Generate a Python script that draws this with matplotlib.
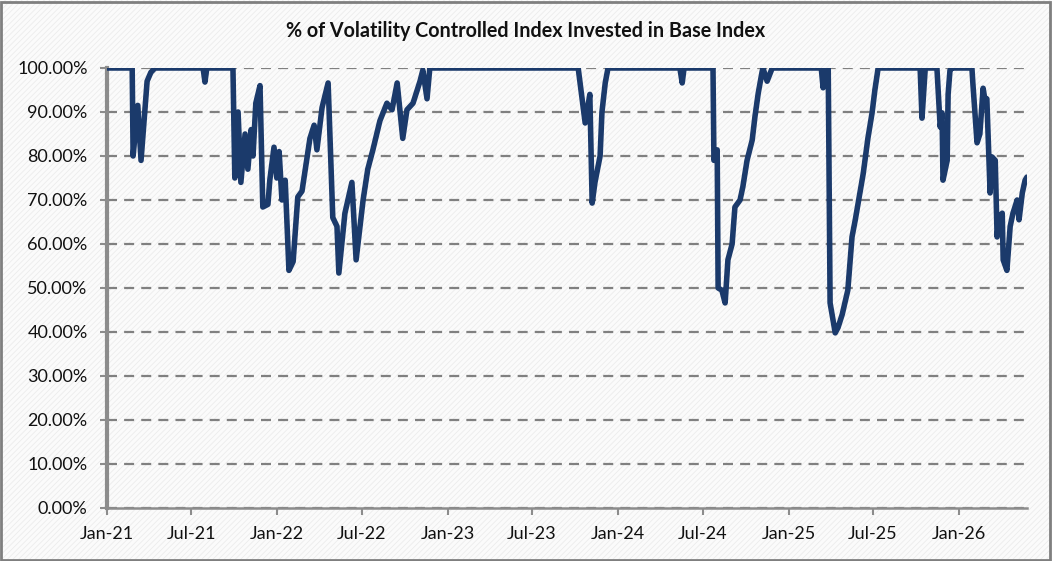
import matplotlib
matplotlib.use("Agg")
import matplotlib.pyplot as plt
import matplotlib.dates as mdates
from matplotlib.patches import Rectangle
from matplotlib.ticker import FuncFormatter
import pandas as pd

# ---------------------------------------------------------------
# Data: % of volatility controlled index invested in base index
# (breakpoints)
# ---------------------------------------------------------------
dates = [
    "2021-01-01", "2021-02-24", "2021-02-26", "2021-03-08", "2021-03-15", "2021-03-28",
    "2021-04-05", "2021-04-14", "2021-07-26", "2021-07-30", "2021-08-03", "2021-09-28",
    "2021-10-02", "2021-10-09", "2021-10-15", "2021-10-24", "2021-10-30", "2021-11-06",
    "2021-11-10", "2021-11-16", "2021-11-25", "2021-12-01", "2021-12-12", "2021-12-16",
    "2021-12-25", "2021-12-31", "2022-01-05", "2022-01-11", "2022-01-18", "2022-01-26",
    "2022-02-04", "2022-02-14", "2022-02-23", "2022-03-12", "2022-03-21", "2022-03-27",
    "2022-04-07", "2022-04-20", "2022-04-30", "2022-05-09", "2022-05-13", "2022-05-26",
    "2022-06-10", "2022-06-19", "2022-07-04", "2022-07-14", "2022-07-25", "2022-08-09",
    "2022-08-24", "2022-09-04", "2022-09-15", "2022-09-27", "2022-10-06", "2022-10-19",
    "2022-11-03", "2022-11-09", "2022-11-18", "2022-11-24",
    "2023-10-08", "2023-10-16", "2023-10-23", "2023-11-02", "2023-11-07", "2023-11-13",
    "2023-11-24", "2023-11-28", "2023-12-05", "2023-12-11",
    "2024-05-13", "2024-05-18", "2024-05-22", "2024-07-23", "2024-07-25", "2024-08-01",
    "2024-08-03", "2024-08-11", "2024-08-18", "2024-08-24", "2024-09-02", "2024-09-08",
    "2024-09-19", "2024-09-25", "2024-10-04", "2024-10-15", "2024-10-21", "2024-10-28",
    "2024-11-05", "2024-11-07", "2024-11-16", "2024-11-27",
    "2025-03-12", "2025-03-16", "2025-03-20", "2025-03-27", "2025-03-31", "2025-04-11",
    "2025-04-17", "2025-04-26", "2025-05-08", "2025-05-17", "2025-05-24", "2025-06-03",
    "2025-06-10", "2025-06-20", "2025-06-29", "2025-07-05", "2025-07-12",
    "2025-10-10", "2025-10-14", "2025-10-21", "2025-11-15", "2025-11-22", "2025-11-26",
    "2025-11-28", "2025-12-07", "2025-12-09", "2025-12-13", "2025-12-17",
    "2026-01-29", "2026-01-31", "2026-02-09", "2026-02-15", "2026-02-22", "2026-02-26",
    "2026-03-02", "2026-03-09", "2026-03-13", "2026-03-20", "2026-03-24", "2026-03-28",
    "2026-04-04", "2026-04-06", "2026-04-14", "2026-04-21", "2026-04-27", "2026-05-06",
    "2026-05-10", "2026-05-17", "2026-05-23", "2026-05-27",
]
invested = [
    100, 100, 80, 91.5, 79, 97,
    99, 100, 100, 96.8, 100, 100,
    75, 90, 74, 85, 77, 86,
    80, 92, 96, 68.4, 69, 74.5,
    82, 75, 81, 70, 74.5, 54,
    56, 70.7, 72, 84, 87, 81.4,
    91, 96.6, 66, 64, 53.4, 67,
    74, 56.4, 70, 77, 81.4, 88,
    92, 90.5, 96.6, 84, 90.5, 92,
    97, 99.5, 93, 100,
    100, 93.4, 87.5, 94, 69.3, 74,
    80, 90, 96.6, 100,
    100, 96.6, 100, 100, 79, 81.4,
    50, 49.5, 46.6, 56.4, 60, 68.4,
    70, 73, 79, 83.6, 89, 94.3,
    99, 100, 97, 100,
    100, 95.5, 100, 100, 46.6, 39.8,
    41, 44, 49.5, 61.6, 65.5, 71.6,
    76, 84, 89.8, 95, 100,
    100, 88.6, 100, 100, 86.6, 89.8,
    74.5, 79, 94, 99.5, 100,
    100, 96.6, 83, 85, 95.4, 92.7,
    93, 71.6, 79.8, 79, 61.6, 66,
    67, 56.4, 54, 64, 67, 70,
    65.5, 71.6, 74.5, 75.2,
]
x_start = "2021-01-01"
x_end = "2026-05-27"
tick_dates = pd.date_range("2021-01-01", "2026-01-01", freq="6MS")
y_ticks = list(range(0, 101, 10))

title = "% of Volatility Controlled Index Invested in Base Index"

# ---------------------------------------------------------------
# Style
# ---------------------------------------------------------------
C_LINE = "#1B3A6B"
C_GRID = "#808080"
C_AXIS = "#8c8c8c"
plt.rcParams["font.family"] = ["Lato", "DejaVu Sans"]
plt.rcParams["hatch.linewidth"] = 0.6

fig = plt.figure(figsize=(10.52, 5.61), dpi=100)
fig.patch.set_facecolor("#fbfbfb")

# faint diagonal texture + outer border like the Excel chart area
fig.patches.append(Rectangle((0, 0), 1, 1, transform=fig.transFigure, facecolor="none",
                             edgecolor="#ececec", hatch="//////", lw=0, zorder=-10))
fig.patches.append(Rectangle((0.001, 0.002), 0.997, 0.995, transform=fig.transFigure,
                             facecolor="none", edgecolor="#7f7f7f", lw=2, zorder=10))

ax = fig.add_axes([0.1017, 0.0945, 0.9762 - 0.1017, 0.8788 - 0.0945])
ax.patch.set_alpha(0)

x = pd.to_datetime(dates)
ax.plot(x, invested, color=C_LINE, lw=4, solid_joinstyle="round",
        solid_capstyle="round", zorder=3)

# axes
ax.set_xlim(pd.Timestamp(x_start), pd.Timestamp(x_end))
ax.set_ylim(0, 100)
ax.set_yticks(y_ticks)
ax.yaxis.set_major_formatter(FuncFormatter(lambda v, p: f"{v:.2f}%"))
ax.set_xticks(tick_dates)
ax.xaxis.set_major_formatter(mdates.DateFormatter("%b-%y"))

ax.grid(axis="y", color=C_GRID, lw=1.6, linestyle=(0, (4.5, 3.2)), zorder=1)
ax.grid(axis="x", visible=False)

for s in ["top", "right"]:
    ax.spines[s].set_visible(False)
ax.spines["left"].set_color(C_AXIS)
ax.spines["left"].set_linewidth(3)
ax.spines["bottom"].set_color(C_AXIS)
ax.spines["bottom"].set_linewidth(1.8)
ax.tick_params(axis="y", length=5, width=1.5, color=C_AXIS, labelsize=13, pad=9,
               labelcolor="#111111")
ax.tick_params(axis="x", length=5, width=1.5, color=C_AXIS, labelsize=13, pad=8,
               labelcolor="#111111")

fig.text(0.4993, 0.944, title, ha="center", va="center", fontsize=14.2,
         fontweight="bold", color="#111111")

fig.savefig("out.png", dpi=100, facecolor=fig.get_facecolor())
